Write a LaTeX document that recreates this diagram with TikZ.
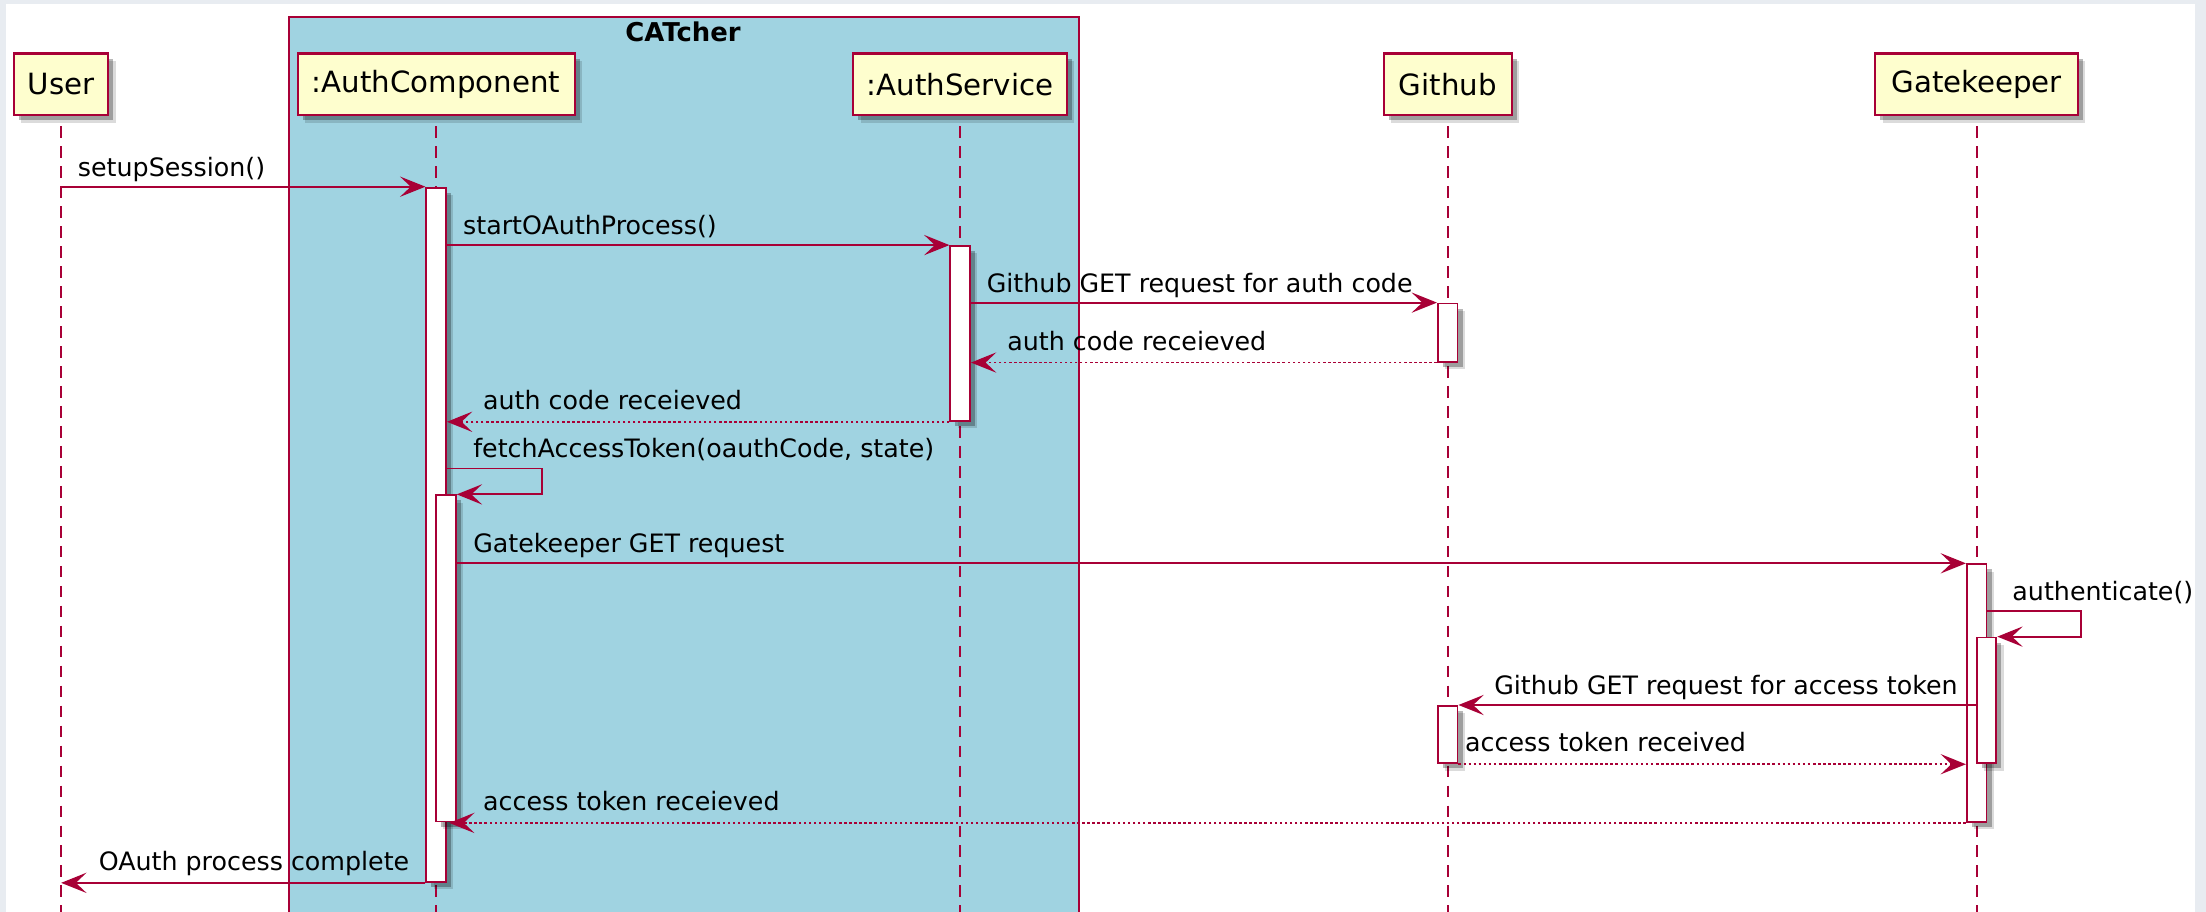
\documentclass[tikz,border=0pt]{standalone}
\usepackage{fontspec}
\setmainfont{DejaVu Sans}
\usetikzlibrary{arrows.meta,shadows}
\definecolor{crim}{RGB}{168,0,54}
\definecolor{partfill}{RGB}{254,254,206}
\definecolor{boxblue}{RGB}{160,211,225}
\definecolor{pagegray}{RGB}{232,236,241}
\begin{document}
\begin{tikzpicture}[x=0.5pt,y=-0.5pt,
  softshadow/.style={drop shadow={shadow xshift=2.6pt, shadow yshift=-2.6pt, opacity=0.14, fill=black},
                     drop shadow={shadow xshift=1.8pt, shadow yshift=-1.8pt, opacity=0.28, fill=black}},
  participant/.style={draw=crim, line width=0.75pt, fill=partfill, minimum height=22pt, inner sep=0pt,
                      font=\fontsize{10.4}{12}\selectfont, softshadow},
  actbar/.style={draw=crim, line width=0.65pt, fill=white, minimum width=7pt, inner sep=0pt, anchor=north, softshadow},
  lifeline/.style={draw=crim, line width=0.6pt, dash pattern=on 4.15pt off 2.95pt},
  msg/.style={draw=crim, line width=0.65pt, -{Stealth[length=9pt,width=7.2pt,inset=3.8pt]}},
  ret/.style={msg, dash pattern=on 0.9pt off 0.9pt},
  lbl/.style={anchor=base west, inner sep=0pt, font=\fontsize{9}{11}\selectfont},
  groupbox/.style={draw=crim, fill=boxblue, line width=0.65pt, anchor=north west, inner sep=0pt},
]
\useasboundingbox (0,0) rectangle (1568,648.2);
\clip (0,0) rectangle (1568,648.2);
\fill[pagegray] (0,0) rectangle (1568,648.2);
\fill[white] (4,3) rectangle (1560,660);

% group box
\node[groupbox, minimum width=281pt, minimum height=325pt] (catcher) at (204.5,11.5) {};
\node[anchor=base, inner sep=0pt, font=\bfseries\fontsize{9.2}{11}\selectfont] (title) at (485.5,29.5) {CATcher};

\coordinate (bottom) at (0,660);

% participants
\node[participant, minimum width=33.5pt] (user) at (43.5,60) {User};
\node[participant, minimum width=98.5pt] (ac) at (310,60) {:AuthComponent};
\node[participant, minimum width=76pt] (as) at (682.5,60) {:AuthService};
\node[participant, minimum width=45.5pt] (gh) at (1029,60) {Github};
\node[participant, minimum width=72pt] (gk) at (1405,60) {Gatekeeper};

% lifelines
\foreach \p in {user,ac,as,gh,gk}
  \draw[lifeline] ([yshift=-3.5pt]\p.south) -- (\p |- bottom);

% activation bars
\node[actbar, minimum height=246.75pt] (acO) at (310,132.7) {};
\node[actbar, minimum height=115.95pt] (acN) at (317,351.4) {};
\node[actbar, minimum height=62.15pt] (asA) at (682.5,174.2) {};
\node[actbar, minimum height=20.65pt] (ghA) at (1029,215.1) {};
\node[actbar, minimum height=91.6pt] (gkO) at (1405,400.4) {};
\node[actbar, minimum height=44.7pt] (gkN) at (1412,452.5) {};
\node[actbar, minimum height=20.4pt] (ghB) at (1029,501.1) {};

% loop corners
\coordinate (loopA) at (385,333);
\coordinate (loopB) at (1479.3,434);

% messages
\draw[msg] (user |- acO.north) -- (acO.north west);
\draw[msg] (acO.east |- asA.north) -- (asA.north west);
\draw[msg] (asA.east |- ghA.north) -- (ghA.north west);
\draw[ret] (ghA.south west) -- (asA.east |- ghA.south);
\draw[ret] (asA.south west) -- (acO.east |- asA.south);
\draw[msg] (acO.east |- loopA) -- (loopA) -- (loopA |- acN.north) -- (acN.north east);
\draw[msg] (acN.east |- gkO.north) -- (gkO.north west);
\draw[msg] (gkO.east |- loopB) -- (loopB) -- (loopB |- gkN.north) -- (gkN.north east);
\draw[msg] (gkN.west |- ghB.north) -- (ghB.north east);
\draw[ret] (ghB.south east) -- (gkO.west |- ghB.south);
\draw[ret] (gkO.south west) -- ([xshift=0.8pt]acO.east |- gkO.south);
\draw[msg] (acO.south west) -- (user |- acO.south);

% labels
\node[lbl] (t1) at (55,125.2) {setupSession()};
\node[lbl] (t2) at (328.8,166.7) {startOAuthProcess()};
\node[lbl] (t3) at (701,207.6) {Github GET request for auth code};
\node[lbl] (t4) at (715.6,248.9) {auth code receieved};
\node[lbl] (t5) at (343,291) {auth code receieved};
\node[lbl] (t6) at (336,325.5) {fetchAccessToken(oauthCode, state)};
\node[lbl] (t7) at (336,392.9) {Gatekeeper GET request};
\node[lbl] (t8) at (1430,426.5) {authenticate()};
\node[lbl] (t9) at (1061.7,493.6) {Github GET request for access token};
\node[lbl] (t10) at (1041,534.4) {access token received};
\node[lbl] (t11) at (343,576) {access token receieved};
\node[lbl] (t12) at (69.8,618.7) {OAuth process complete};
\end{tikzpicture}
\end{document}
